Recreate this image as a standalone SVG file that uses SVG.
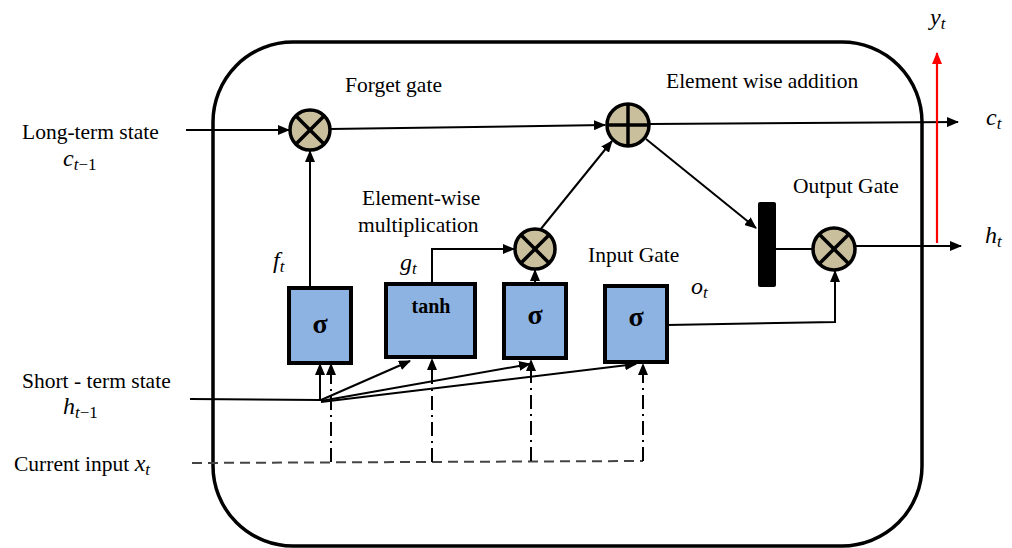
<svg xmlns="http://www.w3.org/2000/svg" width="1012" height="548" viewBox="0 0 1012 548">
<defs>
<marker id="ah" markerUnits="userSpaceOnUse" markerWidth="12" markerHeight="10" refX="11" refY="5" orient="auto">
<path d="M0,0 L12,5 L0,10 z" fill="#000"/>
</marker>
<marker id="ahr" markerUnits="userSpaceOnUse" markerWidth="12" markerHeight="10" refX="11" refY="5" orient="auto">
<path d="M0,0 L12,5 L0,10 z" fill="#f00"/>
</marker>
<style>
.lbl{font-family:"Liberation Serif","Times New Roman",serif;font-size:21.5px;fill:#000}
.m{font-family:"Liberation Serif","Times New Roman",serif;font-style:italic;font-size:24px;fill:#000}
.sub{font-size:17px}
.up{font-style:normal}
.box{fill:#8DB3E2;stroke:#000;stroke-width:4}
.op{fill:#C9BF9C;stroke:#000;stroke-width:3.5}
.opl{stroke:#000;stroke-width:3.5}
.sig{font-family:"Liberation Serif","Times New Roman",serif;font-weight:bold;font-size:28px;text-anchor:middle}
.ln{fill:none;stroke:#000;stroke-width:2}
.dd{fill:none;stroke:#000;stroke-width:2;stroke-dasharray:14,5,2,5}
.ds{fill:none;stroke:#444;stroke-width:2;stroke-dasharray:10,6}
</style>
</defs>
<rect id="cell" x="213" y="42" width="709" height="504" rx="80" ry="80" fill="none" stroke="#000" stroke-width="3.5"/>
<g id="connectors">
<line class="ln" x1="186" y1="130" x2="289" y2="130" marker-end="url(#ah)"/>
<line class="ln" x1="330" y1="129" x2="605" y2="125" marker-end="url(#ah)"/>
<line class="ln" x1="650" y1="124" x2="958" y2="122" marker-end="url(#ah)"/>
<line class="ln" x1="855" y1="246" x2="961" y2="246" marker-end="url(#ah)"/>
<line x1="937" y1="243" x2="937" y2="53" stroke="#f00" stroke-width="2.2" marker-end="url(#ahr)"/>
<line class="ln" x1="646" y1="139" x2="756" y2="228" marker-end="url(#ah)"/>
<line class="ln" x1="776" y1="249" x2="813" y2="249"/>
<polyline class="ln" points="667,325 835,322 835,271" marker-end="url(#ah)"/>
<line class="ln" x1="310" y1="288" x2="310" y2="151" marker-end="url(#ah)"/>
<polyline class="ln" points="432,284 432,249 514,249" marker-end="url(#ah)"/>
<line class="ln" x1="535" y1="284" x2="535" y2="270" marker-end="url(#ah)"/>
<line class="ln" x1="540" y1="230" x2="612" y2="141" marker-end="url(#ah)"/>
<polyline class="ln" points="190,399 320,400 320,364" marker-end="url(#ah)"/>
<line class="ln" x1="321" y1="400" x2="410" y2="361" marker-end="url(#ah)"/>
<line class="ln" x1="321" y1="401" x2="530" y2="364" marker-end="url(#ah)"/>
<line class="ln" x1="321" y1="402" x2="636" y2="364" marker-end="url(#ah)"/>
<polyline class="ds" points="192,463 643,461"/>
<line class="dd" x1="331" y1="462" x2="331" y2="364" marker-end="url(#ah)"/>
<line class="dd" x1="432" y1="462" x2="432" y2="359" marker-end="url(#ah)"/>
<line class="dd" x1="531" y1="461" x2="531" y2="360" marker-end="url(#ah)"/>
<line class="dd" x1="643" y1="461" x2="643" y2="364" marker-end="url(#ah)"/>
</g>
<g id="forget-mult">
<circle class="op" cx="310" cy="130" r="20"/>
<line class="opl" x1="296" y1="116" x2="324" y2="144"/><line class="opl" x1="324" y1="116" x2="296" y2="144"/>
</g>
<g id="add">
<circle class="op" cx="628" cy="125" r="21"/>
<line class="opl" x1="607" y1="125" x2="649" y2="125"/><line class="opl" x1="628" y1="104" x2="628" y2="146"/>
</g>
<g id="input-mult">
<circle class="op" cx="535" cy="249" r="20"/>
<line class="opl" x1="521" y1="235" x2="549" y2="263"/><line class="opl" x1="549" y1="235" x2="521" y2="263"/>
</g>
<g id="output-mult">
<circle class="op" cx="834" cy="249" r="21"/>
<line class="opl" x1="819" y1="234" x2="849" y2="264"/><line class="opl" x1="849" y1="234" x2="819" y2="264"/>
</g>
<g id="tanh-bar"><rect x="758" y="202" width="18" height="85" rx="2" fill="#000"/></g>
<g id="forget-sigma"><rect class="box" x="289" y="288" width="62" height="75"/><text class="sig" x="320" y="333">σ</text></g>
<g id="tanh-box"><rect class="box" x="386" y="284" width="89" height="73"/><text class="sig" x="431" y="313" style="font-size:20px">tanh</text></g>
<g id="input-sigma"><rect class="box" x="504" y="284" width="62" height="74"/><text class="sig" x="535" y="324">σ</text></g>
<g id="output-sigma"><rect class="box" x="605" y="286" width="62" height="76"/><text class="sig" x="636" y="326">σ</text></g>
<g id="labels">
<text class="lbl" x="22" y="139">Long-term state</text>
<text class="m" x="63" y="166">c<tspan class="sub" dy="4">t<tspan class="up">−1</tspan></tspan></text>
<text class="lbl" x="345" y="92">Forget gate</text>
<text class="lbl" x="666" y="88">Element wise addition</text>
<text class="lbl" x="362" y="205">Element-wise</text>
<text class="lbl" x="358" y="232">multiplication</text>
<text class="lbl" x="588" y="262">Input Gate</text>
<text class="lbl" x="793" y="193">Output Gate</text>
<text class="lbl" x="22" y="388">Short - term state</text>
<text class="m" x="63" y="414">h<tspan class="sub" dy="4">t<tspan class="up">−1</tspan></tspan></text>
<text class="lbl" x="14" y="471">Current input <tspan class="m">x<tspan class="sub" dy="4">t</tspan></tspan></text>
<text class="m" x="273" y="268">f<tspan class="sub" dy="4">t</tspan></text>
<text class="m" x="400" y="270">g<tspan class="sub" dy="4">t</tspan></text>
<text class="m" x="691" y="294">o<tspan class="sub" dy="4">t</tspan></text>
<text class="m" x="930" y="25">y<tspan class="sub" dy="4">t</tspan></text>
<text class="m" x="986" y="125">c<tspan class="sub" dy="4">t</tspan></text>
<text class="m" x="985" y="243">h<tspan class="sub" dy="4">t</tspan></text>
</g>
</svg>
